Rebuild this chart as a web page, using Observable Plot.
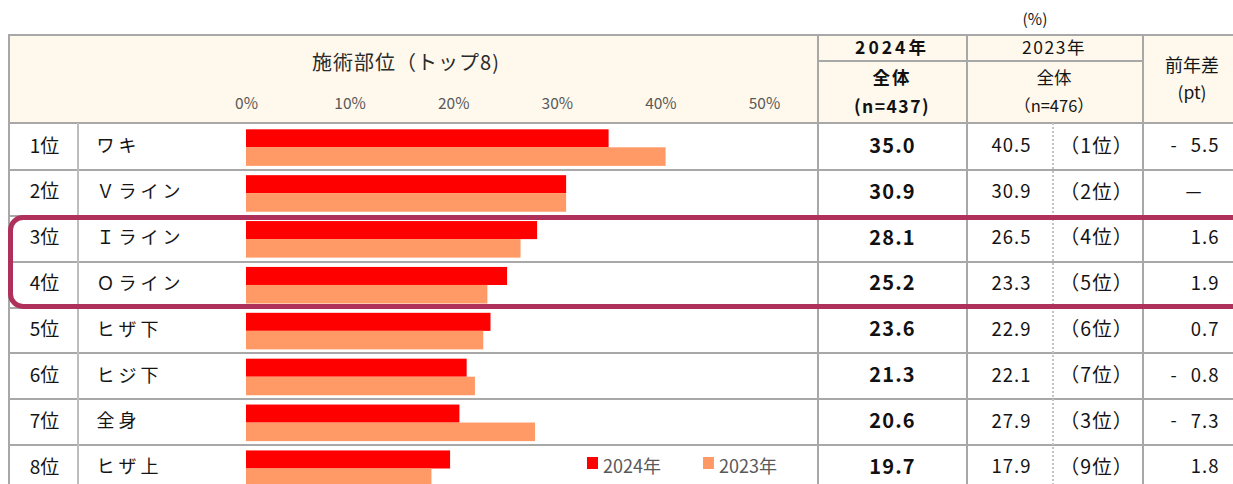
<!DOCTYPE html>
<html><head><meta charset="utf-8">
<script src="https://cdn.jsdelivr.net/npm/d3@7"></script>
<script src="https://cdn.jsdelivr.net/npm/@observablehq/plot@0.6"></script>
<style>
body{margin:0;background:#fff;font-family:"Noto Sans CJK JP","Noto Sans",sans-serif;}
#wrap{position:relative;width:1233px;height:484px;overflow:hidden;background:#fff;}
.abs{position:absolute;}
.t{position:absolute;transform:translate(-50%,-50%);white-space:nowrap;color:#1a1a1a;line-height:1;}
#wrap svg{position:absolute;left:0;top:0;}
</style></head><body><div id="wrap"></div>
<script>
// ---- data ----
const ranks = ["1位","2位","3位","4位","5位","6位","7位","8位"];
const parts = ["ワキ","Ｖライン","Ｉライン","Ｏライン","ヒザ下","ヒジ下","全身","ヒザ上"];
const v2024 = [35.0, 30.9, 28.1, 25.2, 23.6, 21.3, 20.6, 19.7];
const v2023 = [40.5, 30.9, 26.5, 23.3, 22.9, 22.1, 27.9, 17.9];
const rank2023 = ["（1位）","（2位）","（4位）","（5位）","（6位）","（7位）","（3位）","（9位）"];
const diffs = [-5.5, 0, 1.6, 1.9, 0.7, -0.8, -7.3, 1.8];
const xTicks = [0, 10, 20, 30, 40, 50];
const seriesNames = ["2024年", "2023年"];
const seriesColors = ["#FF0000", "#FF9966"];

// ---- layout ----
const W = 1233;
const top0 = 124, rowH = 45.875;
const plotH = top0 + rowH * ranks.length;
const FONT = '"Noto Sans CJK JP","Noto Sans",sans-serif';
const LINE = "#A8A8A8", VLINE = "#BDBDBD";
const INK = "#141414";
const wrap = d3.select("#wrap");

function box(l, t, w, h, css) {
  const d = wrap.append("div").attr("class", "abs")
    .style("left", l + "px").style("top", t + "px")
    .style("width", w + "px").style("height", h + "px");
  for (const k in css) d.style(k, css[k]);
  return d;
}
function txt(s, cx, cy, css) {
  const d = wrap.append("div").attr("class", "t").text(s)
    .style("left", cx + "px").style("top", cy + "px");
  for (const k in css) d.style(k, css[k]);
  return d;
}

// header background
box(9, 35, 1240, 88, {background: "#FFF8EC"});

// ---- plot ----
const rows2024 = ranks.map((r, i) => ({rank: r, value: v2024[i]}));
const rows2023 = ranks.map((r, i) => ({rank: r, value: v2023[i]}));
const table = ranks.map((r, i) => ({rank: r, part: parts[i], v24: v2024[i], v23: v2023[i], r23: rank2023[i], diff: diffs[i]}));

const plot = Plot.plot({
  width: W, height: plotH,
  marginLeft: 246, marginRight: 469, marginTop: top0, marginBottom: 0,
  style: {background: "transparent", fontFamily: FONT, fontSize: "15.5px", color: "#595959", overflow: "visible"},
  x: {domain: [0, 50], axis: "top", ticks: xTicks, tickFormat: d => d + "%", tickSize: 0, tickPadding: 16, label: null},
  y: {domain: ranks, axis: null, padding: 0, round: false},
  marks: [
    Plot.barX(rows2024, {x: "value", y: "rank", fill: seriesColors[0], insetTop: 5.3, insetBottom: 22.5}),
    Plot.barX(rows2023, {x: "value", y: "rank", fill: seriesColors[1], insetTop: 23.3, insetBottom: 4}),
    Plot.text(table, {y: "rank", text: "rank", frameAnchor: "left", dx: -202, dy: -1, textAnchor: "middle", fontSize: 19, fill: INK}),
    Plot.text(table, {y: "rank", text: "part", frameAnchor: "left", dx: -150, dy: -1, textAnchor: "start", fontSize: 18, fill: INK}),
    Plot.text(table, {y: "rank", text: d => d.v24.toFixed(1), frameAnchor: "left", dx: 646, dy: -1, textAnchor: "middle", fontSize: 20, fontWeight: "bold", fill: "#111"}),
    Plot.text(table, {y: "rank", text: d => d.v23.toFixed(1), frameAnchor: "left", dx: 765, dy: -1, textAnchor: "middle", fontSize: 18.5, fill: INK}),
    Plot.text(table, {y: "rank", text: "r23", frameAnchor: "left", dx: 850, dy: -1, textAnchor: "middle", fontSize: 19.5, fill: INK}),
    Plot.text(table.filter(d => d.diff !== 0), {y: "rank", text: d => Math.abs(d.diff).toFixed(1), frameAnchor: "left", dx: 973, dy: -1, textAnchor: "end", fontSize: 18.5, fill: INK}),
    Plot.text(table.filter(d => d.diff < 0), {y: "rank", text: () => "-", frameAnchor: "left", dx: 927, dy: -1, textAnchor: "middle", fontSize: 18, fill: INK}),
    Plot.text(table.filter(d => d.diff === 0), {y: "rank", text: () => "—", frameAnchor: "left", dx: 947, dy: -1, textAnchor: "middle", fontSize: 18, fill: INK})
  ]
});

// grid lines (behind plot)
const ys = plot.scale("y");
box(8, 34, 1240, 2, {background: LINE});
box(8, 34, 2, 460, {background: LINE});
box(9, 122, 1240, 2, {background: LINE});
ranks.slice(1).forEach(r => {
  const y = ys.apply(r);
  box(9, y - 1, 1240, 2, {background: LINE});
});
box(76.5, 123, 2, 370, {background: VLINE});
[818, 967, 1143].forEach(x => box(x - 1, 35, 2, 460, {background: LINE}));
box(818, 60, 325, 2, {background: LINE});
box(1052, 123, 0, 370, {"border-left": "2px dotted #C4C4C4"});

wrap.node().appendChild(plot);
// letter spacing for table text columns (text marks in order)
const textGroups = d3.select(plot).selectAll('g[aria-label="text"]').nodes();
const spacing = [0, 4, 1.2, 1, 1, 1, 0, 0];
textGroups.forEach((g, i) => {
  if (spacing[i]) d3.select(g).selectAll("text").style("letter-spacing", spacing[i] + "px");
});

// header texts
txt("施術部位（トップ8)", 406, 62, {"font-size": "20px", "letter-spacing": "1px", color: "#2a2a2a"});
txt("2024年", 892, 47, {"font-size": "17.5px", "font-weight": "bold", "letter-spacing": "3px", color: "#111"});
txt("全体", 892, 77, {"font-size": "17.5px", "font-weight": "bold", "letter-spacing": "2px", color: "#111"});
txt("(n=437)", 892, 106, {"font-size": "17.5px", "font-weight": "bold", "letter-spacing": "1.5px", color: "#111"});
txt("2023年", 1054, 47, {"font-size": "17.5px", "letter-spacing": "1.5px", color: INK});
txt("全体", 1054, 77, {"font-size": "17.5px", color: INK});
txt("（n=476）", 1054, 105, {"font-size": "16.5px", color: INK});
txt("前年差", 1192, 64, {"font-size": "18px", color: INK});
txt("(pt)", 1192, 92, {"font-size": "17.5px", color: INK});
txt("(%)", 1035, 19, {"font-size": "15.5px", color: INK});

// highlight annotation
box(7.5, 214.5, 1240, 94.5, {border: "5px solid #B0305C", "border-radius": "15px", "box-sizing": "border-box"});

// legend
seriesNames.forEach((name, i) => {
  const x0 = [587, 703][i];
  box(x0, 457, 11, 12, {background: seriesColors[i]});
  wrap.append("div").attr("class", "abs").text(name)
    .style("left", (x0 + 16) + "px").style("top", "454px")
    .style("font-size", "18px").style("line-height", "22px").style("color", "#595959");
});
</script></body></html>
